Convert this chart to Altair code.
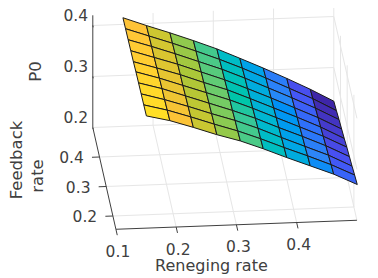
import altair as alt
import pandas as pd

# Surface data
reneging = [0.15, 0.189, 0.228, 0.267, 0.306, 0.344, 0.383, 0.422, 0.461, 0.5]
feedback = [0.5, 0.461, 0.422, 0.383, 0.344, 0.306, 0.267, 0.228, 0.189, 0.15]
p0 = [
    [.413, .396, .380, .363, .345, .325, .304, .282, .259, .234],
    [.414, .398, .382, .365, .347, .328, .307, .285, .263, .238],
    [.415, .400, .384, .367, .350, .331, .310, .289, .267, .243],
    [.416, .401, .386, .369, .352, .333, .313, .292, .271, .247],
    [.417, .403, .388, .371, .355, .336, .316, .296, .275, .251],
    [.419, .405, .389, .373, .357, .339, .319, .299, .279, .256],
    [.420, .407, .391, .375, .359, .342, .322, .303, .283, .260],
    [.421, .408, .393, .377, .362, .345, .325, .306, .287, .264],
    [.422, .410, .395, .379, .364, .347, .328, .310, .291, .269],
    [.423, .412, .397, .381, .367, .350, .331, .313, .295, .273],
]
x_ticks = [0.1, 0.2, 0.3, 0.4]
y_ticks = [0.2, 0.3, 0.4]
z_ticks = [0.2, 0.3, 0.4]
x_lim = [0.1, 0.5]
y_lim = [0.155, 0.5]
z_lim = [0.2, 0.42]
parula = ["#3e26a8", "#4852f4", "#2e87f7", "#12b1d6", "#37c897", "#abc739", "#fec338", "#f9fb15"]
INK = "#404040"
GRID = "#e6e6e6"
FONT = "DejaVu Sans"


def project(x, y, z):
    """Orthographic 3-D view of the box, in page pixels."""
    sx = 92.8 + (x - 0.1) * 602.5 + (0.5 - y) * 67
    sy = 127.5 - (x - 0.1) * 22.5 + (0.5 - y) * 295 - (z - 0.2) * 510
    return sx, sy


def segs(items, name=""):
    rows = []
    for n, (a, b) in enumerate(items):
        for o, p in enumerate((a, b)):
            sx, sy = project(*p)
            rows.append({"g": f"{name}{n}", "o": o, "sx": sx, "sy": sy})
    return pd.DataFrame(rows)


W, H = 362, 268
X = alt.X("sx:Q", scale=alt.Scale(domain=[8, 8 + W], nice=False, zero=False), axis=None)
Y = alt.Y("sy:Q", scale=alt.Scale(domain=[8 + H, 8], nice=False, zero=False), axis=None)

x0, x1 = x_lim
y0, y1 = y_lim
z0, z1 = z_lim

grid_items = []
for t in x_ticks[1:]:
    grid_items.append(((t, y0, z0), (t, y1, z0)))
    grid_items.append(((t, y1, z0), (t, y1, z1)))
for t in y_ticks:
    grid_items.append(((x0, t, z0), (x1, t, z0)))
    grid_items.append(((x1, t, z0), (x1, t, z1)))
for t in z_ticks:
    grid_items.append(((x0, y1, t), (x1, y1, t)))
    grid_items.append(((x1, y1, t), (x1, y0, t)))
grid_items.append(((x1, y1, z0), (x1, y1, z1)))
grid = alt.Chart(segs(grid_items)).mark_line(color=GRID, strokeWidth=1).encode(
    x=X, y=Y, detail="g:N", order="o:Q")

axis_items = [
    ((x0, y1, z0), (x0, y1, z1)),
    ((x0, y1, z0), (x0, y0, z0)),
    ((x0, y0, z0), (x1, y0, z0)),
]
for t in x_ticks:
    axis_items.append(((t, y0, z0), (t, y0 - 0.02, z0)))
for t in y_ticks:
    axis_items.append(((x0, t, z0), (x0 - 0.0125, t, z0)))
for t in z_ticks:
    axis_items.append(((x0, y1, t), (x0, y1 - 0.006, t)))
axes = alt.Chart(segs(axis_items)).mark_line(color=INK, strokeWidth=1).encode(
    x=X, y=Y, detail="g:N", order="o:Q")

cells = []
for k in range(len(feedback) - 1):
    for i in range(len(reneging) - 1):
        corners = [(i, k), (i + 1, k), (i + 1, k + 1), (i, k + 1), (i, k)]
        for o, (a, b) in enumerate(corners):
            sx, sy = project(reneging[a], feedback[b], p0[b][a])
            cells.append({"cell": f"{k}-{i}", "o": o, "sx": sx, "sy": sy, "c": p0[k][i + 1]})
zs = [v for r in p0 for v in r]
surface = alt.Chart(pd.DataFrame(cells)).mark_line(stroke="#1a1a1a", strokeWidth=1, strokeJoin="round").encode(
    x=X, y=Y, detail="cell:N", order="o:Q",
    fill=alt.Fill("c:Q", legend=None,
                  scale=alt.Scale(domain=[min(zs) + (max(zs) - min(zs)) * i / 7 for i in range(8)], range=parula)),
)


def labels(pts, texts, sdx, sdy, angle=0, size=15.5):
    rows = []
    for p, t in zip(pts, texts):
        sx, sy = project(*p)
        rows.append({"sx": sx, "sy": sy, "t": t})
    # Vega applies dx/dy in the rotated frame of the text
    dx, dy = (-sdy, sdx) if angle == 270 else (sdx, sdy)
    return alt.Chart(pd.DataFrame(rows)).mark_text(
        font=FONT, fontSize=size, color=INK, dx=dx, dy=dy, angle=angle, align="center", baseline="middle"
    ).encode(x=X, y=Y, text="t:N")


xl = labels([(t, y0, z0) for t in x_ticks], [f"{t:.1f}" for t in x_ticks], 2, 22.5)
yl = labels([(x0, t, z0) for t in y_ticks], [f"{t:.1f}" for t in y_ticks], -28, 1)
zl = labels([(x0, y1, t) for t in z_ticks], [f"{t:.1f}" for t in z_ticks], -17, -10)
xt = labels([(0.3, y0, z0)], ["Reneging rate"], -25, 41, size=16)
zt = labels([(x0, y1, 0.3)], ["P0"], -57, -5, angle=270, size=16.5)
yt1 = labels([(x0, 0.3, z0)], ["Feedback"], -89, -26.5, angle=270, size=16.5)
yt2 = labels([(x0, 0.3, z0)], ["rate"], -68, -10.5, angle=270, size=16.5)

chart = alt.layer(grid, surface, axes, xl, yl, zl, xt, zt, yt1, yt2).resolve_scale(
    fill="independent"
).properties(width=W, height=H, padding=0, autosize=alt.AutoSizeParams(type="none")).configure_view(stroke=None)

chart.save("out.html", embed_options={"renderer": "svg", "actions": False})
